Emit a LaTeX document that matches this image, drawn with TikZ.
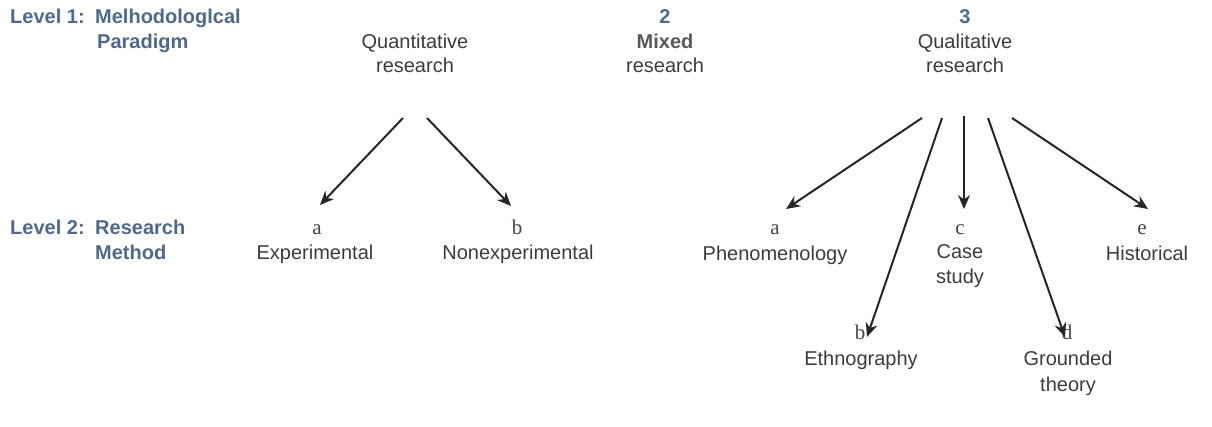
\documentclass[tikz,border=0pt]{standalone}
\usepackage{fontspec}
\setmainfont{Liberation Sans}
\newfontfamily\letterfont{Liberation Serif}
\usetikzlibrary{arrows.meta}
\definecolor{lvlblue}{HTML}{4D6A8E}
\definecolor{txtgray}{HTML}{3C3C3C}
\definecolor{lettergray}{HTML}{454545}
\definecolor{arrowgray}{HTML}{262626}
\tikzset{
  lvl/.style={text=lvlblue, font=\bfseries\fontsize{20}{24}\selectfont, inner sep=0pt, anchor=base west},
  num/.style={text=lvlblue, font=\bfseries\fontsize{20}{24}\selectfont, inner sep=0pt, anchor=base},
  txt/.style={text=txtgray, font=\fontsize{20}{24}\selectfont, inner sep=0pt, anchor=base},
  btxt/.style={text=txtgray!85!white, font=\bfseries\fontsize{20}{24}\selectfont, inner sep=0pt, anchor=base},
  letter/.style={text=lettergray, font=\letterfont\fontsize{21}{24}\selectfont, inner sep=0pt, anchor=base},
  arr/.style={draw=arrowgray, line width=2pt, -{Stealth[length=14pt,width=12pt]}}
}
\begin{document}
\begin{tikzpicture}[x=1pt,y=-1pt]
\useasboundingbox (0,0) rectangle (1212,427);
\fill[white] (0,0) rectangle (1212,427);
% level labels
\node[lvl] (l1a) at (10,24) {Level 1:};
\node[lvl] (l1b) at (95,24) {Melhodologlcal};
\node[lvl] (l1c) at (97,49) {Paradigm};
\node[lvl] (l2a) at (10,235) {Level 2:};
\node[lvl] (l2b) at (95,235) {Research};
\node[lvl] (l2c) at (95,260) {Method};
% top row
\node[txt] (quant) at (415,49) {Quantitative};
\node[txt] (quantr) at (415,73) {research};
\node[num] (n2) at (665,24) {2};
\node[btxt] (mixed) at (665,49) {Mixed};
\node[txt] (mixedr) at (665,73) {research};
\node[num] (n3) at (965,24) {3};
\node[txt] (qual) at (965,49) {Qualitative};
\node[txt] (qualr) at (965,73) {research};
% level 2 quantitative
\node[letter] (qa) at (317,235) {a};
\node[txt] (exp) at (315,260) {Experimental};
\node[letter] (qb) at (517,235) {b};
\node[txt] (nonexp) at (518,260) {Nonexperimental};
% level 2 qualitative
\node[letter] (pa) at (775,235) {a};
\node[txt] (phen) at (775,261) {Phenomenology};
\node[letter] (pc) at (960,235) {c};
\node[txt] (case) at (960,259) {Case};
\node[txt] (study) at (960,284) {study};
\node[letter] (pe) at (1142,235) {e};
\node[txt] (hist) at (1147,261) {Historical};
\node[letter] (pb) at (860,340) {b};
\node[txt] (eth) at (861,365) {Ethnography};
\node[letter] (pd) at (1067,340) {d};
\node[txt] (grnd) at (1068,366) {Grounded};
\node[txt] (theory) at (1068,391) {theory};
% arrow endpoints
\coordinate (qs1) at (403,118);
\coordinate (qe1) at (320,205);
\coordinate (qs2) at (427,118);
\coordinate (qe2) at (511,206);
\coordinate (s1) at (922,118);
\coordinate (e1) at (786,209);
\coordinate (s2) at (942,118);
\coordinate (e2) at (867,337);
\coordinate (s3) at (964,116);
\coordinate (e3) at (964,209);
\coordinate (s4) at (988,118);
\coordinate (e4) at (1065,337);
\coordinate (s5) at (1012,118);
\coordinate (e5) at (1148,209);
\draw[arr] (qs1) -- (qe1);
\draw[arr] (qs2) -- (qe2);
\draw[arr] (s1) -- (e1);
\draw[arr] (s2) -- (e2);
\draw[arr] (s3) -- (e3);
\draw[arr] (s4) -- (e4);
\draw[arr] (s5) -- (e5);
\end{tikzpicture}
\end{document}
